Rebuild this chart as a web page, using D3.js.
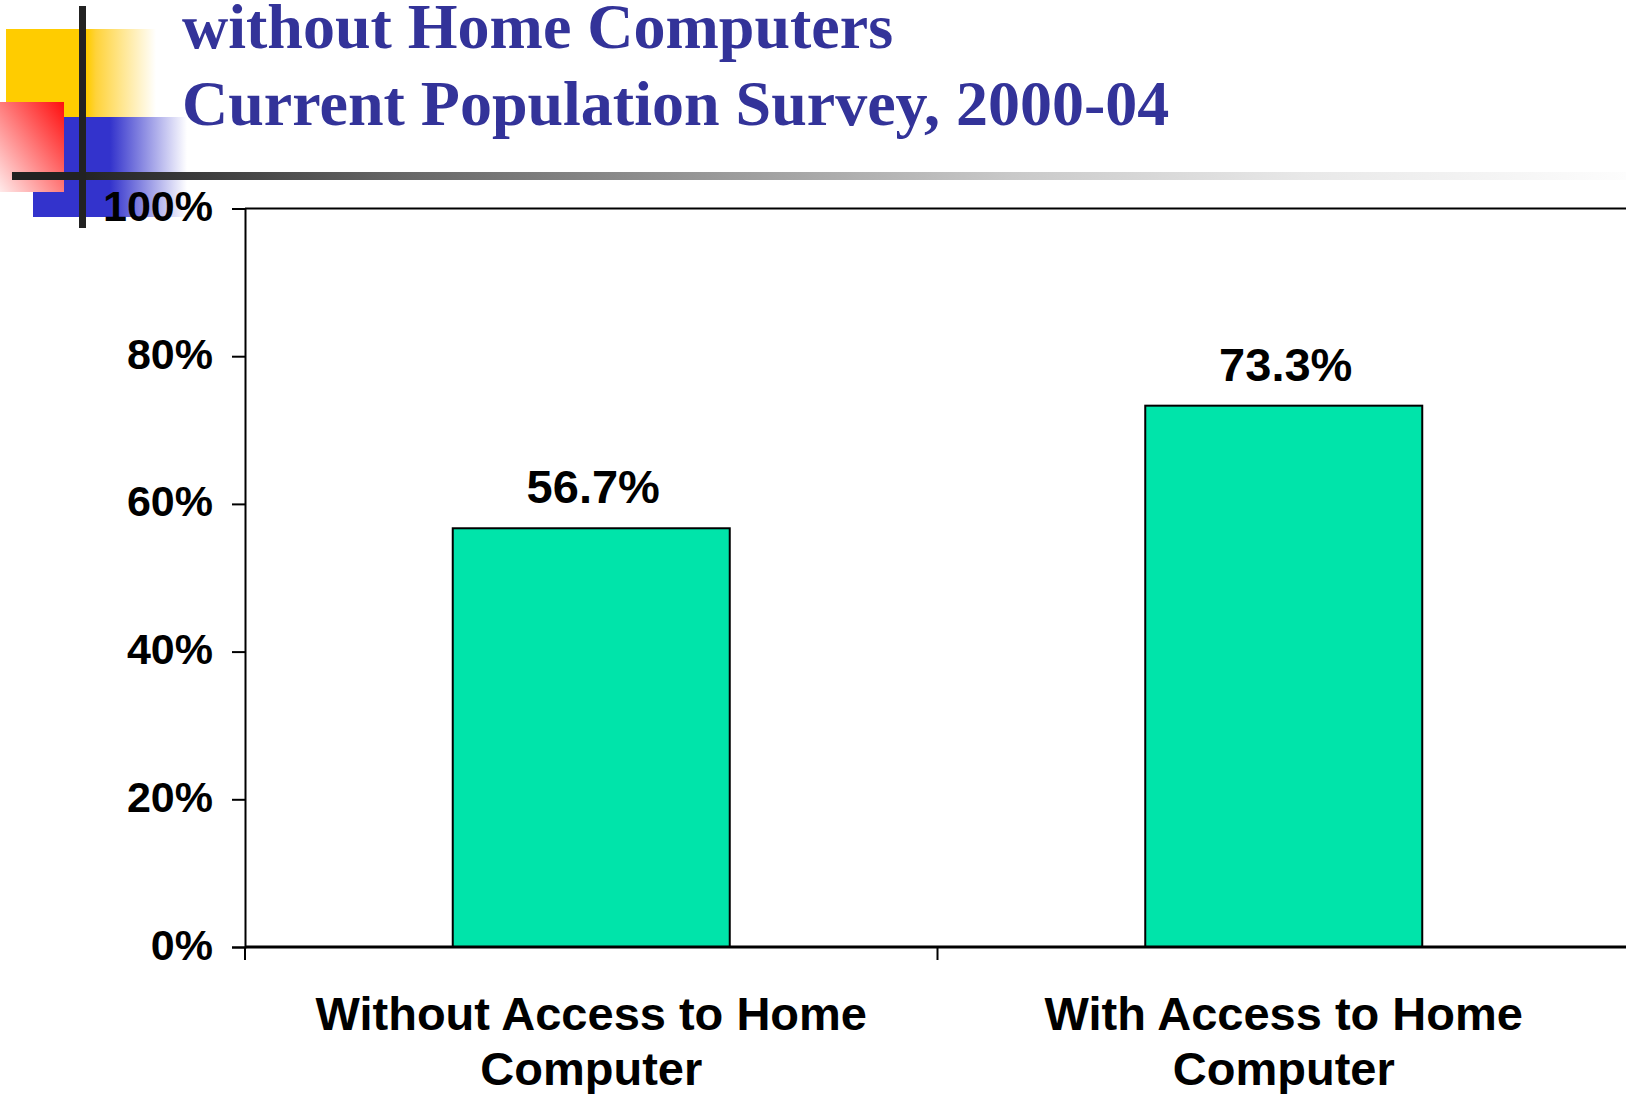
<!DOCTYPE html>
<html>
<head>
<meta charset="utf-8">
<script src="https://cdn.jsdelivr.net/npm/d3@7"></script>
<style>
  html, body { margin: 0; padding: 0; background: #fff; }
  svg { display: block; }
</style>
</head>
<body>
<svg id="chart" width="1626" height="1094"></svg>
<script>
// Chart content
const titleLines = ["without Home Computers", "Current Population Survey, 2000-04"];
const categories = ["Without Access to Home Computer", "With Access to Home Computer"];
const categoryLines = [["Without Access to Home", "Computer"], ["With Access to Home", "Computer"]];
const values = [56.7, 73.3];
const yTicks = [0, 20, 40, 60, 80, 100];

const W = 1626, H = 1094;
const svg = d3.select("#chart");
const defs = svg.append("defs");

// ---- slide decoration: coloured squares and crossing bars ----
function hGrad(id, stops) {
  const g = defs.append("linearGradient").attr("id", id)
    .attr("x1", "0").attr("y1", "0").attr("x2", "1").attr("y2", "0");
  stops.forEach(s => g.append("stop").attr("offset", s[0]).attr("stop-color", s[1]));
}
hGrad("gYellow", [[0, "#ffcc00"], [0.54, "#ffcc00"], [0.6, "#ffd33a"], [1, "#ffffff"]]);
hGrad("gBlue", [[0, "#3333cc"], [0.5, "#3333cc"], [1, "#ffffff"]]);
hGrad("gBar", [[0, "#222222"], [0.04, "#222222"], [0.24, "#666666"], [0.62, "#c9c9c9"], [0.8, "#e8e8e8"], [1, "#fdfdfd"]]);
const gRed = defs.append("linearGradient").attr("id", "gRed")
  .attr("x1", "1").attr("y1", "0").attr("x2", "0").attr("y2", "1");
gRed.append("stop").attr("offset", 0).attr("stop-color", "#ff0d0d");
gRed.append("stop").attr("offset", 1).attr("stop-color", "#ffeaea");

const deco = svg.append("g");
deco.append("rect").attr("x", 6).attr("y", 29).attr("width", 150).attr("height", 88).attr("fill", "url(#gYellow)");
deco.append("rect").attr("x", 33).attr("y", 117).attr("width", 154).attr("height", 100).attr("fill", "url(#gBlue)");
deco.append("rect").attr("x", 0).attr("y", 102).attr("width", 64).attr("height", 90).attr("fill", "url(#gRed)");
deco.append("rect").attr("x", 12).attr("y", 172).attr("width", W - 12).attr("height", 8).attr("fill", "url(#gBar)");
deco.append("rect").attr("x", 79).attr("y", 6).attr("width", 7).attr("height", 222).attr("fill", "#222222");

// ---- title ----
svg.append("g").selectAll("text").data(titleLines).join("text")
  .attr("x", 182)
  .attr("y", (d, i) => 48 + i * 77)
  .attr("font-family", "'Liberation Serif', 'Times New Roman', serif")
  .attr("font-weight", "bold")
  .attr("font-size", 64)
  .attr("fill", "#333399")
  .text(d => d);

// ---- scales ----
const plotLeft = 245, plotRight = 1630, plotTop = 208.5, plotBottom = 947;
const x = d3.scaleBand().domain(categories).range([plotLeft, plotRight])
  .paddingInner(0.6).paddingOuter(0.3);
const y = d3.scaleLinear().domain([0, 100]).range([plotBottom, plotTop]);

const labelFont = "'Liberation Sans', Arial, sans-serif";

// plot area top border
svg.append("line")
  .attr("x1", plotLeft).attr("x2", plotRight)
  .attr("y1", y(100)).attr("y2", y(100))
  .attr("stroke", "#000").attr("stroke-width", 2);

// bars
svg.append("g").selectAll("rect").data(values).join("rect")
  .attr("x", (d, i) => x(categories[i]))
  .attr("y", d => y(d))
  .attr("width", x.bandwidth())
  .attr("height", d => y(0) - y(d))
  .attr("fill", "#00e4aa")
  .attr("stroke", "#000")
  .attr("stroke-width", 2);

// value labels
svg.append("g").selectAll("text").data(values).join("text")
  .attr("x", (d, i) => x(categories[i]) + x.bandwidth() / 2 + 2)
  .attr("y", d => y(d) - 25)
  .attr("text-anchor", "middle")
  .attr("font-family", labelFont)
  .attr("font-weight", "bold")
  .attr("font-size", 47)
  .attr("fill", "#000")
  .text(d => d.toFixed(1) + "%");

// y axis
const yAxis = svg.append("g")
  .attr("transform", `translate(${plotLeft},0)`)
  .call(d3.axisLeft(y).tickValues(yTicks).tickSize(13).tickPadding(19).tickFormat(d => d + "%"));
yAxis.select(".domain").attr("stroke", "#000").attr("stroke-width", 2);
yAxis.selectAll(".tick line").attr("stroke", "#000").attr("stroke-width", 2);
yAxis.selectAll(".tick text")
  .attr("font-family", labelFont)
  .attr("font-weight", "bold")
  .attr("font-size", 43)
  .attr("fill", "#000")
  .attr("dy", "0.28em");

// x axis line with ticks at category boundaries
const step = x.step();
const boundaries = categories.map(c => x(c) - step * x.paddingOuter());
const xAxis = svg.append("g");
xAxis.append("line")
  .attr("x1", plotLeft).attr("x2", plotRight)
  .attr("y1", y(0)).attr("y2", y(0))
  .attr("stroke", "#000").attr("stroke-width", 3);
xAxis.selectAll("line.tick").data(boundaries).join("line")
  .attr("class", "tick")
  .attr("x1", d => d).attr("x2", d => d)
  .attr("y1", y(0)).attr("y2", y(0) + 13)
  .attr("stroke", "#000").attr("stroke-width", 2);

// category labels
const catText = xAxis.selectAll("text.cat").data(categories).join("text")
  .attr("class", "cat")
  .attr("text-anchor", "middle")
  .attr("font-family", labelFont)
  .attr("font-weight", "bold")
  .attr("font-size", 47)
  .attr("fill", "#000");
catText.each(function(c, i) {
  const cx = x(c) + x.bandwidth() / 2;
  d3.select(this).selectAll("tspan").data(categoryLines[i]).join("tspan")
    .attr("x", cx)
    .attr("y", (d, j) => 1030 + j * 55)
    .text(d => d);
});
</script>
</body>
</html>
